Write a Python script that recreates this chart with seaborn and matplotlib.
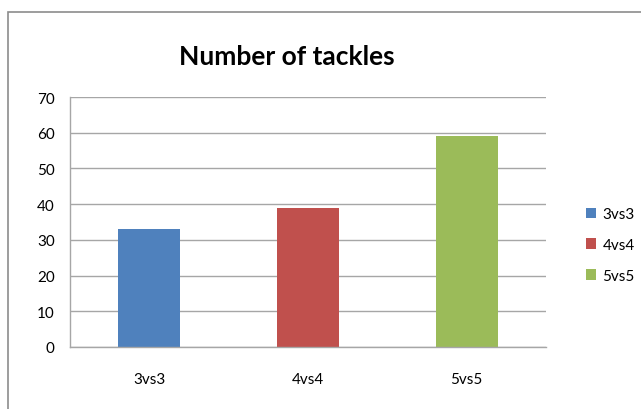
import matplotlib
matplotlib.use("Agg")
import matplotlib.pyplot as plt
import seaborn as sns
import pandas as pd
from matplotlib.patches import Rectangle

categories = ["3vs3", "4vs4", "5vs5"]
values = [33, 39, 59]
colors = ["#4F81BD", "#C0504D", "#9BBB59"]
y_ticks = [0, 10, 20, 30, 40, 50, 60, 70]
title = "Number of tackles"

sns.set_style("white")
plt.rcParams["font.family"] = ["Lato", "DejaVu Sans"]
plt.rcParams["text.color"] = "black"

W, H = 641, 410
fig = plt.figure(figsize=(W / 100, H / 100), dpi=100)
ax = fig.add_axes([70 / W, 1 - 348 / H, 476 / W, 250 / H])

df = pd.DataFrame({"cat": categories, "val": values})
sns.barplot(data=df, x="cat", y="val", hue="cat", palette=colors,
            width=0.39, dodge=False, legend=True, ax=ax, saturation=1,
            linewidth=0)

ax.set_xlim(-0.5, 2.5)
ax.set_ylim(0, 70)
ax.set_yticks(y_ticks)
ax.set_xlabel("")
ax.set_ylabel("")
ax.yaxis.grid(True, color="#A6A6A6", linewidth=1)
ax.set_axisbelow(True)
for s in ["top", "right"]:
    ax.spines[s].set_visible(False)
for s in ["left", "bottom"]:
    ax.spines[s].set_color("#A6A6A6")
    ax.spines[s].set_linewidth(1)

ax.set_xticks([-0.5, 0.5, 1.5, 2.5], minor=True)
ax.tick_params(axis="x", which="minor", length=5, color="#A6A6A6", width=1, direction="out")
ax.tick_params(axis="x", which="major", length=0, pad=18, labelsize=11, labelcolor="black")
ax.tick_params(axis="y", length=5, color="#A6A6A6", width=1, direction="out", pad=6,
               labelsize=11, labelcolor="black")

leg = ax.legend(loc="center left", bbox_to_anchor=(572 / W, 1 - 246 / H),
                bbox_transform=fig.transFigure, frameon=False, fontsize=11,
                handlelength=0.7, handleheight=0.7, handletextpad=0.4,
                labelspacing=1.1)
for t in leg.get_texts():
    t.set_color("black")

fig.text(287 / W, 1 - 57 / H, title, ha="center", va="center",
         fontsize=19, fontweight="bold", color="black")

fig.patches.append(Rectangle((8 / W, -0.1), 1.2, 1 - 13 / H + 0.1,
                             transform=fig.transFigure, fill=False,
                             edgecolor="#8C8C8C", linewidth=1.2))

fig.savefig("out.png", dpi=100)
